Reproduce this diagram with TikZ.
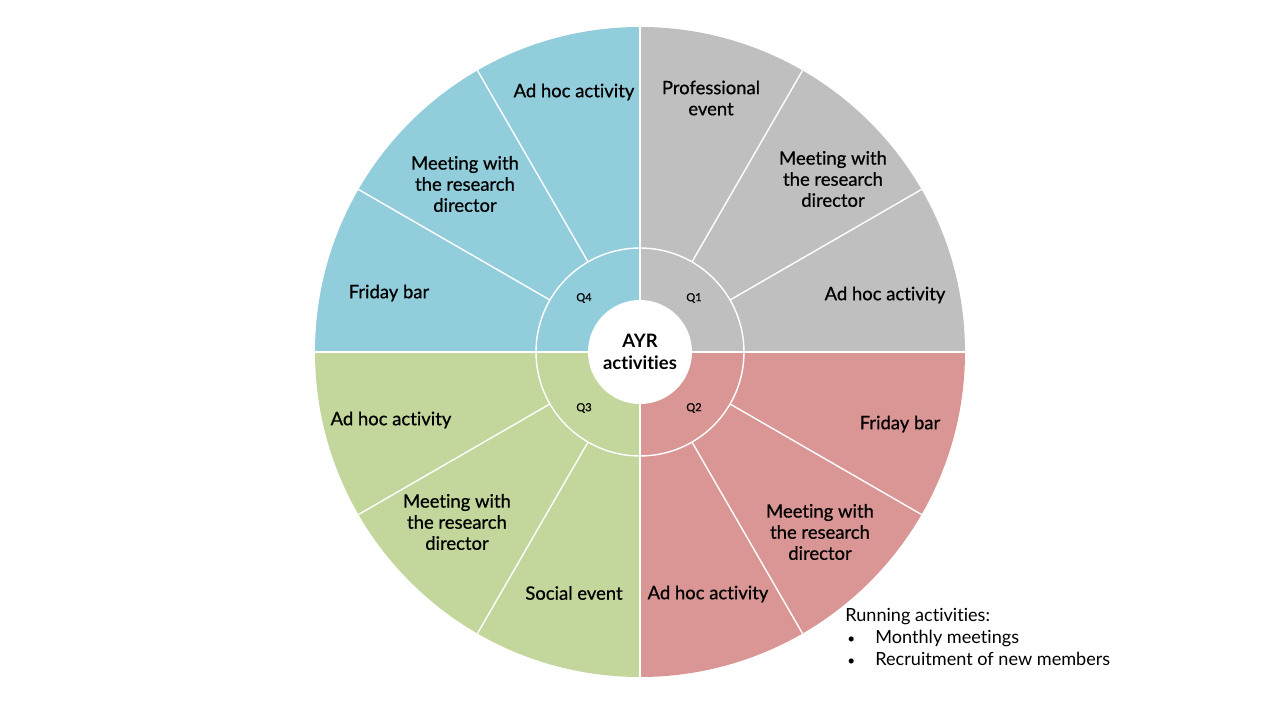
\documentclass[tikz,border=0pt]{standalone}
\usepackage{fontspec}
\setmainfont{Lato}[Ligatures=NoCommon]
\newfontfamily\actfont{Lato}[Ligatures=NoCommon, FakeBold=0.7]
\usepackage{xcolor}
\usepackage{tikz}
\definecolor{qgray}{HTML}{BFBFBF}
\definecolor{qred}{HTML}{D99694}
\definecolor{qgreen}{HTML}{C3D69B}
\definecolor{qblue}{HTML}{92CDDC}

\begin{document}
\begin{tikzpicture}[
    sep/.style={white, line width=0.8pt},
    act/.style={align=center, font=\actfont\fontsize{10.5}{12}\selectfont, inner sep=1pt},
    quart/.style={font=\actfont\fontsize{6.3}{7}\selectfont, inner sep=1pt}]
  \useasboundingbox (-12.8,-7.2) rectangle (12.48,7.04);
  % quadrants
  \foreach \a/\c in {0/qgray,270/qred,180/qgreen,90/qblue}
    \fill[\c] (0,0) -- (\a:6.5) arc (\a:\a+90:6.5) -- cycle;
  \fill[white] (0,0) circle (1.04);
  \draw[sep] (0,0) circle (2.08);
  \foreach \a in {30,60,120,150,210,240,300,330}
    \draw[sep] (\a:2.08) -- (\a:6.5);
  \foreach \a in {0,90,180,270}
    \draw[sep] (\a:1.04) -- (\a:6.5);
  \node[align=center, font=\fontsize{10.5}{12.5}\selectfont\bfseries] (ayr) at (0,0) {AYR\\activities};
  % quarter labels
  \node[quart] (q1) at (1.08,1.08) {Q1};
  \node[quart] (q2) at (1.08,-1.12) {Q2};
  \node[quart] (q3) at (-1.12,-1.12) {Q3};
  \node[quart] (q4) at (-1.12,1.08) {Q4};
  % activities
  \node[act] (q1a) at (1.42,5.08) {Professional\\event};
  \node[act] (q1b) at (3.86,3.46) {Meeting with\\the research\\director};
  \node[act] (q1c) at (4.9,1.14) {Ad hoc activity};
  \node[act] (q2a) at (5.2,-1.44) {Friday bar};
  \node[act] (q2b) at (3.6,-3.6) {Meeting with\\the research\\director};
  \node[act] (q2c) at (1.36,-4.84) {Ad hoc activity};
  \node[act] (q3a) at (-1.32,-4.82) {Social event};
  \node[act] (q3b) at (-3.66,-3.4) {Meeting with\\the research\\director};
  \node[act] (q3c) at (-4.98,-1.36) {Ad hoc activity};
  \node[act] (q4a) at (-5.02,1.18) {Friday bar};
  \node[act] (q4b) at (-3.5,3.36) {Meeting with\\the research\\director};
  \node[act] (q4c) at (-1.32,5.2) {Ad hoc activity};
  % running
  \node[anchor=north west, align=left, inner sep=0pt,
        font=\fontsize{10.3}{12.6}\selectfont] (run) at (4.1,-5.12)
    {Running activities:\\
     \makebox[0.6cm][l]{\hspace{0.04cm}\scalebox{0.75}{\textbullet}}Monthly meetings\\
     \makebox[0.6cm][l]{\hspace{0.04cm}\scalebox{0.75}{\textbullet}}Recruitment of new members};
\end{tikzpicture}
\end{document}
